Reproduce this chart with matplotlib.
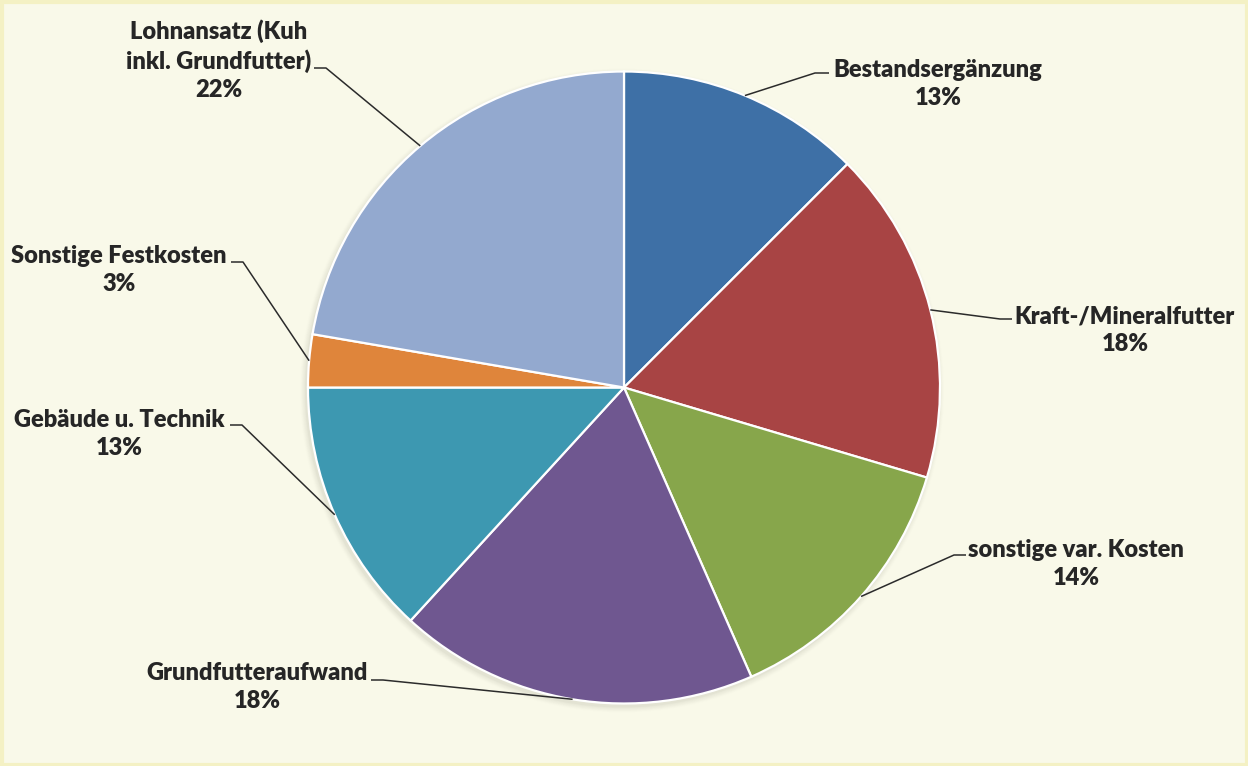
import matplotlib
matplotlib.use("Agg")
import matplotlib.pyplot as plt
import numpy as np
from matplotlib.patches import Circle, Rectangle

categories = ["Bestandsergänzung", "Kraft-/Mineralfutter", "sonstige var. Kosten",
              "Grundfutteraufwand", "Gebäude u. Technik", "Sonstige Festkosten",
              "Lohnansatz (Kuh\ninkl. Grundfutter)"]
values = [12.5, 17.1, 13.8, 18.4, 13.2, 2.7, 22.3]
pct_labels = ["13%", "18%", "14%", "18%", "13%", "3%", "22%"]
colors = ["#3E70A6", "#A84444", "#87A64B", "#6F5790", "#3D98B1", "#DF853B", "#93A9CF"]

# layout (pixel coordinates, y measured from top)
W, H = 1248, 766
cx, cy, R = 624, 387.5, 316
text_pos = [(938, 84), (1125, 330), (1076, 564), (257, 687), (119, 434), (119, 270), (219, 60)]
stub = [((815, 73), (829, 73)), ((1000, 319), (1012, 319)), ((954, 555), (966, 555)),
        ((383, 680), (371, 680)), ((242, 425), (230, 425)), ((243, 262), (231, 262)),
        ((326, 68), (314, 68))]


def fy(y):
    return H - y


fig = plt.figure(figsize=(W / 100, H / 100), dpi=100)
fig.patch.set_facecolor("#F9F9E9")
ax = fig.add_axes([0, 0, 1, 1])
ax.set_aspect("equal")
ax.axis("off")

# border
ax.add_patch(Rectangle((1.5, 1.5), W - 3, H - 3, fill=False, edgecolor="#F4F1C4", lw=3, zorder=0))

# soft shadow
for i, a in enumerate(np.linspace(0.05, 0.01, 6)):
    ax.add_patch(Circle((cx - 2, fy(cy) - 3), R + 1 + i, color="#8a8a7a", alpha=a, lw=0, zorder=1))

wedges, _ = ax.pie(values, colors=colors, startangle=90, counterclock=False,
                   center=(cx, fy(cy)), radius=R,
                   wedgeprops=dict(edgecolor="white", linewidth=1.6))
for w in wedges:
    w.set_zorder(2)
ax.set_xlim(0, W)
ax.set_ylim(0, H)
ax.axis("off")

for i, w in enumerate(wedges):
    tx, ty = text_pos[i]
    ax.text(tx, fy(ty), categories[i] + "\n" + pct_labels[i], ha="center", va="center",
            fontsize=17, fontweight="heavy", family="Lato", color="#262626",
            linespacing=1.32, zorder=5)
    ang = np.deg2rad((w.theta1 + w.theta2) / 2)
    px = cx + R * np.cos(ang)
    py = fy(cy) + R * np.sin(ang)
    (sx0, sy0), (sx1, sy1) = stub[i]
    ax.plot([px, sx0, sx1], [py, fy(sy0), fy(sy1)], color="#2b2b2b", lw=1.1, zorder=4,
            solid_capstyle="butt")

fig.savefig("out.png", dpi=100, facecolor=fig.get_facecolor())
